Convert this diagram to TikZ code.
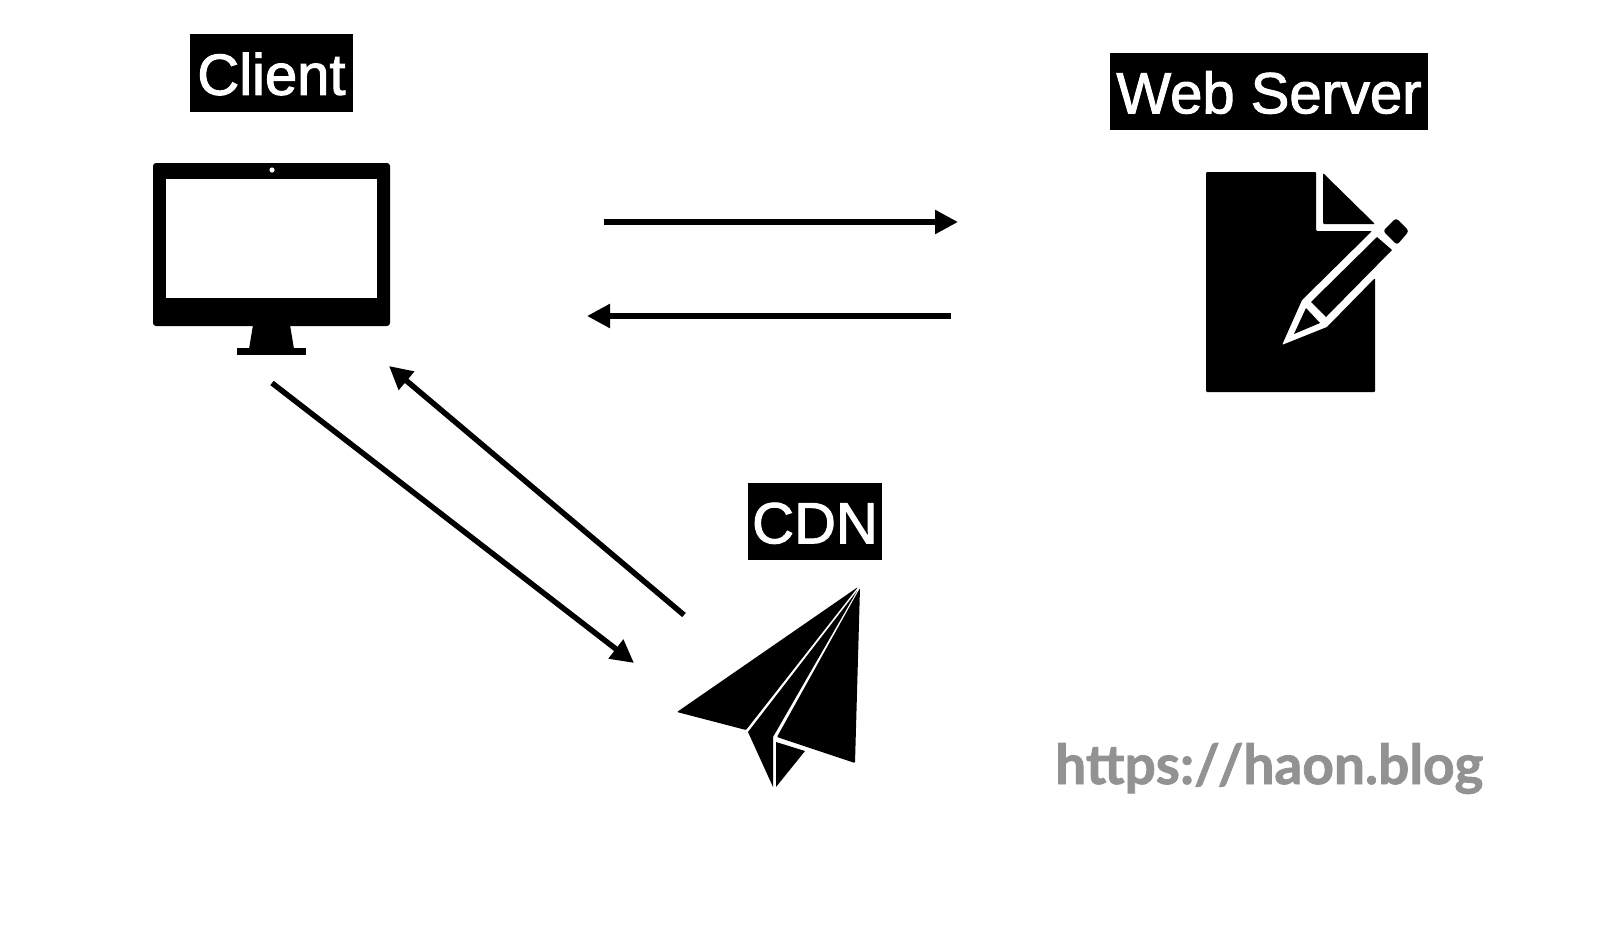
\documentclass[tikz,border=0pt]{standalone}
\usepackage{fontspec}
\setmainfont{Liberation Sans}
\newfontfamily\labelfont[FakeBold=1.8]{Liberation Sans}
\newfontfamily\urlfont[UprightFont=* Bold,FakeBold=1.5]{Lato}
\usetikzlibrary{
	positioning,
	arrows.meta
}
\definecolor{urlgray}{HTML}{929292}
\tikzset{
	x=1pt,
	y=-1pt,
	labelbox/.style={
		fill=black,
		text=white,
		inner sep=0pt,
		text height=43.5pt,
		text depth=0pt,
		font=\labelfont\fontsize{58}{58}\selectfont
	},
	icon/.style={
		fill=black,
		draw=none
	},
	every edge/.append style={
		draw,
		line width=5.5pt,
		-{Triangle[length=23pt,width=23pt]}
	}
}

\begin{document}
\begin{tikzpicture}
		\useasboundingbox (0,0) rectangle (1610,938);

		\node[labelbox,minimum width=163pt,minimum height=78pt] (client) at (271.5,73) {Client};
		\node[labelbox,minimum width=318pt,minimum height=77pt] (server) at (1269,91.5) {Web Server};
		\node[labelbox,minimum width=134pt,minimum height=77pt] (cdn) at (815,521.5) {CDN};
		\node[text=urlgray,inner sep=0pt,anchor=base west,font=\urlfont\fontsize{55}{55}\selectfont] (blog) at (1055,784) {https:/\kern-2pt/haon.blog};

		% monitor
		\fill[icon,rounded corners=3pt] (153,163) rectangle (390,326);
		\fill[white] (166,179) rectangle (377,298);
		\fill[white] (272,170) circle (2.6);
		\fill[icon] (253,325) -- (290,325) -- (294,349) -- (249,349) -- cycle;
		\fill[icon] (237,348) rectangle (306,355);

		% document and pencil
		\fill[icon,rounded corners=1pt] (1206,172) -- (1316,172) -- (1316,231) -- (1372,231) -- (1302,300) -- (1282,345)
			-- (1327,327) -- (1375,278) -- (1375,392) -- (1206,392) -- cycle;
		\fill[icon,rounded corners=1pt] (1323,173) -- (1375,224) -- (1323,224) -- cycle;
		\fill[icon] (1377,237) -- (1392,250) -- (1326,317) -- (1311,302) -- cycle;
		\fill[icon,rounded corners=3pt] (1383,231) -- (1396,218) -- (1409,231) -- (1397,245) -- cycle;
		\fill[icon] (1306,308) -- (1320,323) -- (1294,334) -- cycle;

		% paper plane
		\fill[icon,rounded corners=1pt] (858,587) -- (677,712) -- (746,730) -- cycle;
		\fill[icon] (857,591) -- (748,732) -- (773,787) -- (773,737) -- cycle;
		\fill[icon,rounded corners=1pt] (860,588) -- (855,763) -- (777,737) -- cycle;
		\fill[icon] (776,742) -- (805,751) -- (776,787) -- cycle;

		\coordinate (reqa) at (604,222);
		\coordinate (reqb) at (958,222);
		\coordinate (resa) at (951,316);
		\coordinate (resb) at (587,316);
		\coordinate (cachea) at (272,383);
		\coordinate (cacheb) at (634,663);
		\coordinate (backa) at (684,615);
		\coordinate (backb) at (389,366);

		\draw
			(reqa) edge (reqb)
			(resa) edge (resb)
			(cachea) edge (cacheb)
			(backa) edge (backb)
		;
	\end{tikzpicture}
\end{document}
